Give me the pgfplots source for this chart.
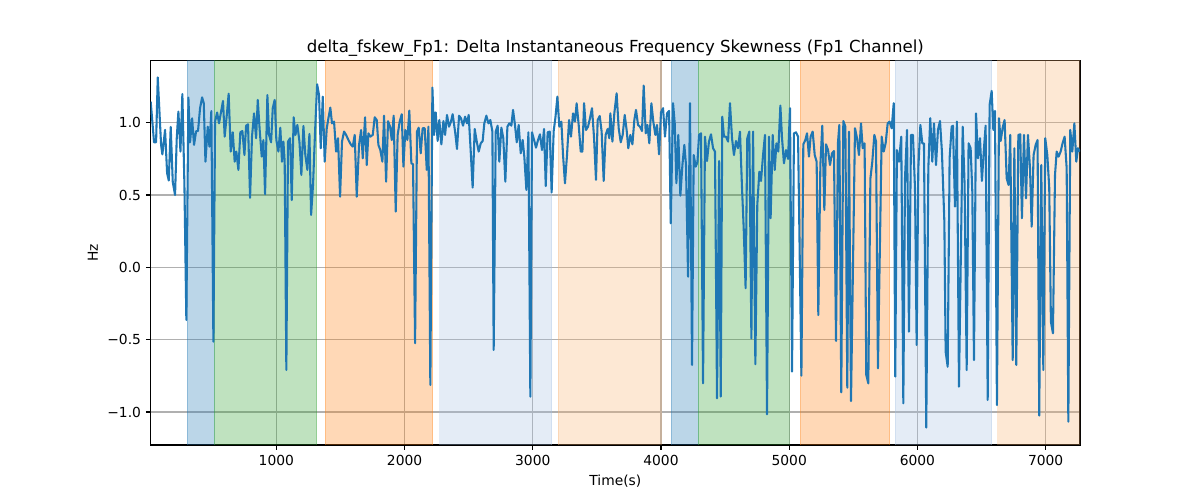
\documentclass[border=0pt]{standalone}
\usepackage{fontspec}
\setmainfont{DejaVu Sans}
\usepackage{pgfplots}
\pgfplotsset{compat=1.18}
\definecolor{tabblue}{HTML}{1F77B4}
\definecolor{tabgreen}{HTML}{2CA02C}
\definecolor{taborange}{HTML}{FF7F0E}
\definecolor{gridgray}{HTML}{B0B0B0}
\definecolor{baselblue}{RGB}{165,192,225}
\definecolor{baselorange}{RGB}{248,178,112}
\pgfplotsset{band/.style={fill=#1, draw=#1, fill opacity=0.3, draw opacity=0.3, line width=0.7pt}}
\begin{document}
\begin{tikzpicture}
\path[use as bounding box] (0,0) rectangle (12in,5in);
\begin{axis}[
  at={(1.507in,0.55in)}, anchor=south west, scale only axis,
  width=9.293in, height=3.843in,
  xmin=20, xmax=7268, ymin=-1.228, ymax=1.428,
  xtick={1000,2000,3000,4000,5000,6000,7000},
  xticklabels={1000,2000,3000,4000,5000,6000,7000},
  ytick={-1,-0.5,0,0.5,1},
  yticklabels={−1.0,−0.5,0.0,0.5,1.0},
  tick pos=left,
  grid=major, grid style={gridgray, line width=0.8pt},
  tick align=outside, major tick length=3.5pt,
  tick style={black, line width=0.8pt},
  axis line style={line width=0.8pt},
  ticklabel style={font=\fontsize{10}{12}\selectfont},
  title={delta\_fskew\_Fp1: Delta Instantaneous Frequency Skewness (Fp1 Channel)},
  title style={font=\fontsize{12}{14}\selectfont, yshift=-6.5pt},
  xlabel={Time(s)}, ylabel={Hz},
  label style={font=\fontsize{10}{12}\selectfont},
]
\addplot[band=tabblue] coordinates {(306,-1.228)(514,-1.228)(514,1.428)(306,1.428)} --cycle;
\addplot[band=tabgreen] coordinates {(514,-1.228)(1315,-1.228)(1315,1.428)(514,1.428)} --cycle;
\addplot[band=taborange] coordinates {(1380,-1.228)(2220,-1.228)(2220,1.428)(1380,1.428)} --cycle;
\addplot[band=baselblue] coordinates {(2276,-1.228)(3148,-1.228)(3148,1.428)(2276,1.428)} --cycle;
\addplot[band=baselorange] coordinates {(3197,-1.228)(4000,-1.228)(4000,1.428)(3197,1.428)} --cycle;
\addplot[band=tabblue] coordinates {(4080,-1.228)(4291,-1.228)(4291,1.428)(4080,1.428)} --cycle;
\addplot[band=tabgreen] coordinates {(4291,-1.228)(5000,-1.228)(5000,1.428)(4291,1.428)} --cycle;
\addplot[band=taborange] coordinates {(5084,-1.228)(5784,-1.228)(5784,1.428)(5084,1.428)} --cycle;
\addplot[band=baselblue] coordinates {(5825,-1.228)(6579,-1.228)(6579,1.428)(5825,1.428)} --cycle;
\addplot[band=baselorange] coordinates {(6628,-1.228)(7268,-1.228)(7268,1.428)(6628,1.428)} --cycle;
\addplot[tabblue, line width=1.5pt, line join=round] coordinates {
(20,1.145)(46,0.864)(62,0.864)(75,1.313)(101,0.846)(111,0.78)(132,0.95)(148,0.65)(161,0.60)(176,0.97)(192,0.59)(210,0.50)(223,0.89)(236,1.076)(252,0.80)(267,1.198)(283,0.57)(298,-0.364)(314,1.173)(327,0.864)(343,1.03)(358,0.846)(374,0.94)(389,0.942)(405,1.10)(421,1.175)(434,1.134)(447,0.73)(465,0.972)(478,0.834)(493,1.08)(509,-0.514)(522,1.007)(538,1.07)(553,0.995)(569,1.076)(584,1.15)(597,0.903)(616,1.076)(628,1.20)(644,0.80)(660,0.933)(675,0.73)(688,0.80)(704,0.673)(719,0.933)(735,0.942)(751,0.776)(764,0.979)(779,0.988)(795,0.48)(810,0.903)(826,1.064)(842,0.892)(855,1.157)(870,0.949)(886,0.765)(899,0.88)(912,0.505)
(930,1.19)(943,0.915)(959,0.864)(972,1.10)(987,1.157)(1000,0.88)(1016,0.80)(1031,0.965)(1044,0.73)(1055,0.869)(1065,0.73)(1078,-0.71)(1091,0.869)(1107,0.892)(1120,0.465)(1135,1.037)(1149,0.915)(1164,0.984)(1180,0.869)(1195,0.638)(1211,0.977)(1226,0.776)(1242,0.673)(1258,0.922)(1271,0.362)(1286,0.569)(1302,0.938)(1318,1.265)(1333,1.19)(1346,0.823)(1362,1.18)(1377,0.73)(1393,0.961)(1406,1.03)(1421,1.104)(1434,0.995)(1450,1.007)(1466,0.80)(1481,0.892)(1497,0.488)(1512,0.869)(1528,0.938)(1544,0.915)(1562,0.88)(1580,0.85)(1596,0.834)(1611,0.915)(1627,0.488)(1645,0.846)(1661,0.949)(1674,0.753)(1692,1.037)(1705,0.707)(1718,0.926)(1733,0.903)(1752,0.915)(1767,1.037)
(1783,1.018)(1796,0.846)(1811,0.81)(1827,0.73)(1840,1.048)(1856,0.592)(1871,1.01)(1887,0.972)(1900,0.88)(1915,1.048)(1931,0.385)(1946,0.915)(1962,1.007)(1978,1.058)(1991,0.696)(2006,0.949)(2022,0.88)(2037,1.083)(2053,0.719)(2066,0.712)(2082,-0.525)(2097,0.938)(2110,0.965)(2126,0.788)(2141,0.961)(2157,0.961)(2173,0.673)(2186,0.972)(2201,-0.813)(2217,1.242)(2230,0.915)(2243,1.071)(2258,0.873)(2271,1.018)(2287,0.85)(2303,1.011)(2316,0.915)(2331,1.053)(2347,0.972)(2362,1.007)(2375,1.058)(2394,0.938)(2409,0.818)(2425,1.048)(2440,1.03)(2456,0.979)(2472,1.041)(2487,0.995)(2500,1.053)(2516,0.80)(2531,0.551)(2547,0.956)(2563,0.869)(2578,0.80)(2594,0.857)(2609,0.873)(2622,0.995)(2638,1.048)(2654,0.995)(2669,1.018)(2685,0.938)(2695,-0.571)
(2711,0.938)(2726,0.979)(2739,0.73)(2755,0.965)(2770,0.892)(2786,0.592)(2802,0.972)(2817,0.995)(2833,0.979)(2846,1.088)(2861,0.984)(2875,0.864)(2890,0.984)(2906,0.788)(2921,0.88)(2934,0.765)(2950,0.535)(2966,0.933)(2981,-0.894)(2994,0.933)(3010,0.88)(3025,0.827)(3041,0.88)(3056,0.919)(3072,0.81)(3088,0.956)(3101,0.562)(3116,0.933)(3132,0.938)(3147,0.518)(3163,0.942)(3176,1.03)(3192,1.18)(3207,0.972)(3223,1.007)(3236,0.776)(3251,0.581)(3267,0.776)(3283,1.018)(3298,0.903)(3314,1.064)(3329,1.007)(3342,1.134)(3358,0.984)(3374,0.80)(3387,0.80)(3400,1.134)(3415,0.949)(3431,0.972)(3446,1.03)(3462,1.10)(3478,0.892)(3493,0.604)(3506,1.018)(3522,1.046)(3537,0.938)(3553,0.597)(3568,0.915)(3584,0.956)(3597,0.892)
(3605,1.064)(3621,0.869)(3636,1.064)(3654,1.203)(3670,0.961)(3686,0.864)(3701,0.915)(3717,1.053)(3732,0.949)(3745,0.823)(3761,0.915)(3777,0.85)(3792,1.018)(3805,1.088)(3821,0.984)(3836,0.972)(3852,0.942)(3865,1.256)(3881,0.926)(3894,0.984)(3909,0.857)(3925,1.134)(3940,1.007)(3956,0.915)(3969,0.984)(3985,0.781)(4000,1.071)(4016,1.10)(4031,0.903)(4047,1.064)(4063,1.081)(4076,0.304)(4094,1.134)(4107,0.995)(4120,0.581)(4135,0.915)(4151,0.495)(4167,0.707)(4182,0.846)(4195,0.707)(4211,-0.065)(4226,1.134)(4242,-0.675)(4255,0.776)(4271,0.696)(4284,0.726)(4297,0.915)(4312,0.926)(4328,-0.802)(4343,0.903)(4359,0.735)(4374,0.869)(4390,0.919)(4406,0.823)(4421,0.80)(4437,-0.906)(4453,0.735)(4466,-0.894)
(4478,1.041)(4491,0.903)(4507,0.903)(4523,0.869)(4538,1.134)(4554,0.892)(4569,0.776)(4585,0.873)(4601,0.823)(4616,0.938)(4632,0.546)(4645,0.27)(4660,-0.145)(4673,0.892)(4689,0.938)(4705,-0.491)(4718,0.938)(4736,-0.67)(4751,0.431)(4767,0.661)(4780,0.597)(4796,0.776)(4811,0.915)(4827,-1.016)(4842,0.903)(4855,0.339)(4871,0.915)(4887,0.673)(4900,0.857)(4915,0.80)(4931,1.118)(4944,0.892)(4959,0.719)(4975,0.81)(4991,0.749)(5006,1.10)(5022,-0.721)(5037,0.926)(5053,0.933)(5069,0.903)(5095,-0.749)(5110,0.85)(5126,0.88)(5139,0.926)(5154,0.765)(5167,0.903)(5183,0.938)(5199,0.776)(5214,0.73)(5227,-0.33)(5243,0.707)(5258,0.979)(5274,0.396)(5287,0.85)(5303,0.81)(5318,0.707)(5334,0.788)(5349,0.804)(5365,-0.509)(5380,0.857)(5391,0.984)
(5406,-0.864)(5422,1.011)(5438,0.972)(5453,-0.832)(5466,0.938)(5482,-0.924)(5513,0.961)(5529,0.892)(5544,0.776)(5560,0.995)(5573,0.823)(5588,0.857)(5601,-0.744)(5617,-0.802)(5633,0.611)(5648,0.73)(5664,0.915)(5677,0.869)(5692,-0.698)(5721,0.903)(5737,0.80)(5752,0.857)(5768,0.995)(5783,1.007)(5799,0.961)(5815,1.134)(5827,-0.756)(5840,0.81)(5856,0.73)(5874,0.903)(5890,-0.94)(5903,0.615)(5919,0.949)(5934,-0.445)(5950,0.915)(5965,0.915)(5981,0.546)(5994,-0.537)(6007,0.684)(6023,0.984)(6038,0.857)(6051,0.857)(6069,-1.108)(6085,0.684)(6100,1.03)(6116,0.73)(6129,0.995)(6145,0.707)(6160,0.949)(6176,1.011)(6191,0.80)(6210,0.316)(6220,-0.583)(6236,-0.687)(6251,0.753)(6267,0.972)
(6277,0.979)(6293,0.419)(6308,1.007)(6324,-0.825)(6353,0.972)(6368,0.569)(6384,-0.71)(6399,0.857)(6415,0.823)(6428,0.523)(6441,-0.641)(6457,1.064)(6472,0.753)(6488,0.892)(6503,0.597)(6519,0.823)(6532,0.979)(6548,-0.917)(6563,1.122)(6579,1.219)(6592,0.949)(6605,1.081)(6620,-0.952)(6636,1.03)(6649,0.873)(6665,0.965)(6680,1.018)(6696,0.615)(6711,0.569)(6724,0.915)(6743,-0.641)(6756,0.823)(6771,-0.675)(6787,0.915)(6802,0.919)(6815,0.339)(6831,0.915)(6847,0.477)(6862,0.915)(6878,0.684)(6891,0.281)(6906,0.776)(6922,0.846)(6937,0.88)(6950,-1.025)(6966,0.707)(6982,-0.71)(6997,0.892)(7013,0.776)(7028,0.55)(7041,-0.376)(7057,-0.456)(7073,0.638)(7086,0.80)(7101,0.765)(7117,0.80)(7132,0.857)(7148,0.903)(7164,0.684)(7177,-1.067)(7192,0.949)(7208,0.80)(7224,0.995)(7239,0.73)(7252,0.823)(7268,0.80)
};
\end{axis}
\end{tikzpicture}
\end{document}
